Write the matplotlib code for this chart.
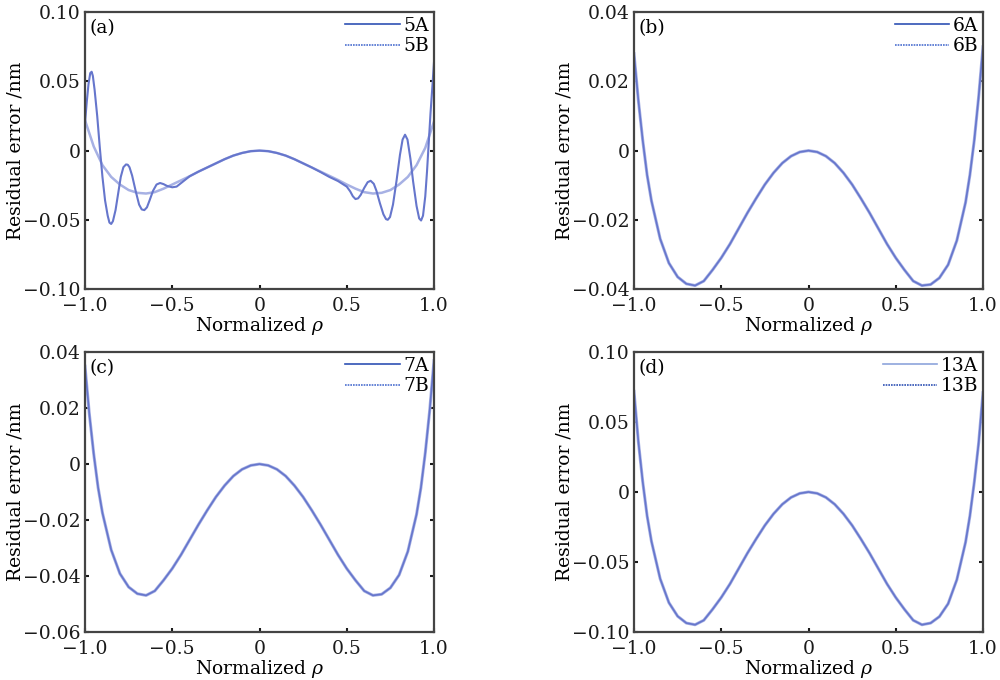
"""Residual error vs normalized rho, four panels (a)-(d)."""
import numpy as np
import matplotlib
matplotlib.use("Agg")
import matplotlib.pyplot as plt
from matplotlib.lines import Line2D
from matplotlib.ticker import FixedLocator, FixedFormatter

plt.rcParams["font.family"] = ["DejaVu Serif"]
plt.rcParams["mathtext.fontset"] = "dejavuserif"
plt.rcParams["font.size"] = 13

# ---- data ------------------------------------------------------------------
# panel (a): 5A oscillating residual, 5B smooth residual
rho_5a = [-1.0, -0.99, -0.98, -0.97, -0.962, -0.955, -0.945, -0.93, -0.915, -0.9,
          -0.885, -0.87, -0.86, -0.85, -0.84, -0.825, -0.81, -0.795, -0.78, -0.765,
          -0.755, -0.745, -0.73, -0.71, -0.69, -0.675, -0.66, -0.645, -0.63, -0.61,
          -0.59, -0.57, -0.55, -0.53, -0.5, -0.475, -0.45, -0.425, -0.4,
          -0.35, -0.3, -0.25, -0.2, -0.15, -0.1, -0.05, 0.0,
          0.05, 0.1, 0.15, 0.2, 0.25, 0.3, 0.35, 0.4, 0.45, 0.5,
          0.52, 0.535, 0.55, 0.565, 0.58, 0.6, 0.62, 0.637, 0.655, 0.67,
          0.69, 0.71, 0.725, 0.735, 0.748, 0.765, 0.785, 0.805, 0.82, 0.834,
          0.848, 0.865, 0.88, 0.9, 0.915, 0.926, 0.937, 0.95, 0.96, 0.97,
          0.98, 0.99, 1.0]
err_5a = [0.020, 0.035, 0.048, 0.056, 0.057, 0.054, 0.044, 0.025, 0.002, -0.019,
          -0.036, -0.047, -0.052, -0.053, -0.051, -0.043, -0.031, -0.019, -0.012, -0.0100,
          -0.0102, -0.012, -0.018, -0.029, -0.039, -0.0425, -0.043, -0.041, -0.036, -0.029,
          -0.0245, -0.0234, -0.0242, -0.0255, -0.0265, -0.026, -0.0235, -0.021, -0.0185,
          -0.0152, -0.0122, -0.0092, -0.0062, -0.0036, -0.0017, -0.0004, 0.0,
          -0.0004, -0.0017, -0.0036, -0.0062, -0.0092, -0.0122, -0.0155, -0.019, -0.022, -0.026,
          -0.0295, -0.033, -0.035, -0.0345, -0.032, -0.027, -0.0228, -0.0218, -0.024, -0.029,
          -0.038, -0.046, -0.0495, -0.050, -0.048, -0.039, -0.022, -0.003, 0.008, 0.0115,
          0.008, -0.006, -0.022, -0.040, -0.049, -0.0505, -0.047, -0.033, -0.015, 0.006,
          0.027, 0.045, 0.064]

rho_5b = [-1.0, -0.95, -0.9, -0.85, -0.8, -0.75, -0.7, -0.65, -0.6, -0.55,
          -0.5, -0.45, -0.4, -0.35, -0.3, -0.25, -0.2, -0.15, -0.1, -0.05,
          0.0, 0.05, 0.1, 0.15, 0.2, 0.25, 0.3, 0.35, 0.4, 0.45, 0.5, 0.55,
          0.6, 0.65, 0.7, 0.75, 0.8, 0.85, 0.9, 0.95, 1.0]
err_5b = [0.022, 0.003, -0.0105, -0.019, -0.0245, -0.0285, -0.0305, -0.031, -0.030, -0.0275,
          -0.0245, -0.0215, -0.0185, -0.0152, -0.0122, -0.0092, -0.0062, -0.0036, -0.0017, -0.0004,
          0.0, -0.0004, -0.0017, -0.0036, -0.0062, -0.0092, -0.0122, -0.0152, -0.0182, -0.0212, -0.0245, -0.0275,
          -0.030, -0.031, -0.0305, -0.0285, -0.0245, -0.019, -0.0105, 0.002, 0.021]

# panels (b)-(d): A and B coincide
rho = [-1.0, -0.975, -0.95, -0.925, -0.9, -0.85, -0.8, -0.75, -0.7, -0.65,
       -0.6, -0.55, -0.5, -0.45, -0.4, -0.35, -0.3, -0.25, -0.2, -0.15,
       -0.1, -0.05, 0.0, 0.05, 0.1, 0.15, 0.2, 0.25, 0.3, 0.35, 0.4, 0.45,
       0.5, 0.55, 0.6, 0.65, 0.7, 0.75, 0.8, 0.85, 0.9, 0.925, 0.95, 0.975, 1.0]
err_6 = [0.028, 0.0145, 0.003, -0.007, -0.0145, -0.0255, -0.0325, -0.0365, -0.0385, -0.039,
         -0.0377, -0.0345, -0.031, -0.027, -0.0225, -0.018, -0.0138, -0.0098, -0.0064, -0.0036,
         -0.0016, -0.0004, 0.0, -0.0004, -0.0016, -0.0036, -0.0064, -0.0098, -0.0138, -0.018, -0.0225, -0.027,
         -0.031, -0.0345, -0.0377, -0.039, -0.0387, -0.0368, -0.033, -0.026, -0.015, -0.007, 0.003, 0.0155, 0.030]
err_7 = [0.035, 0.0178, 0.0036, -0.0084, -0.0175, -0.0307, -0.0392, -0.044, -0.0464, -0.047,
         -0.0454, -0.0416, -0.0374, -0.0325, -0.0271, -0.0217, -0.0166, -0.0118, -0.0077, -0.0043,
         -0.0019, -0.0005, 0.0, -0.0005, -0.0019, -0.0043, -0.0077, -0.0118, -0.0166, -0.0217, -0.0271, -0.0325,
         -0.0374, -0.0416, -0.0454, -0.047, -0.0466, -0.0443, -0.0397, -0.0313, -0.018, -0.0085, 0.004, 0.019, 0.037]
err_13 = [0.072, 0.036, 0.0073, -0.017, -0.0353, -0.0621, -0.0792, -0.0889, -0.0938, -0.095,
          -0.0918, -0.084, -0.0755, -0.0658, -0.0548, -0.0438, -0.0336, -0.0239, -0.0156, -0.0088,
          -0.0039, -0.001, 0.0, -0.001, -0.0039, -0.0088, -0.0156, -0.0239, -0.0336, -0.0438, -0.0548, -0.0658,
          -0.0755, -0.084, -0.0918, -0.095, -0.0938, -0.0892, -0.080, -0.0628, -0.036, -0.017, 0.007, 0.035, 0.071]

x_ticks = [-1.0, -0.5, 0.0, 0.5, 1.0]
x_labels = ["\u22121.0", "\u22120.5", "0", "0.5", "1.0"]
y_ticks_a = [-0.10, -0.05, 0.0, 0.05, 0.10]
y_labels_a = ["\u22120.10", "\u22120.05", "0", "0.05", "0.10"]
y_ticks_b = [-0.04, -0.02, 0.0, 0.02, 0.04]
y_labels_b = ["\u22120.04", "\u22120.02", "0", "0.02", "0.04"]
y_ticks_c = [-0.06, -0.04, -0.02, 0.0, 0.02, 0.04]
y_labels_c = ["\u22120.06", "\u22120.04", "\u22120.02", "0", "0.02", "0.04"]
y_ticks_d = y_ticks_a
y_labels_d = y_labels_a

CURVE = "#6676cc"
LIGHT = "#a7b1e4"
DARK = "#2f52b4"
MID = "#4c6fd0"


def style_axes(ax, yticks, ylabels, tag):
    ax.set_xlim(-1.0, 1.0)
    ax.set_ylim(yticks[0], yticks[-1])
    ax.xaxis.set_major_locator(FixedLocator(x_ticks))
    ax.xaxis.set_major_formatter(FixedFormatter(x_labels))
    ax.yaxis.set_major_locator(FixedLocator(yticks))
    ax.yaxis.set_major_formatter(FixedFormatter(ylabels))
    ax.tick_params(direction="in", length=3, width=1.5, right=True,
                   labelsize=13.5, pad=3, colors="#1a1a1a")
    ax.tick_params(axis="x", pad=6)
    for s in ax.spines.values():
        s.set_linewidth(1.6)
        s.set_color("#444444")
    ax.set_xlabel("Normalized $\\rho$", fontsize=13.5, labelpad=0)
    ax.set_ylabel("Residual error /nm", fontsize=13.5, labelpad=-1)
    ax.text(0.012, 0.975, tag, transform=ax.transAxes, ha="left", va="top",
            fontsize=13.5)


def add_legend(ax, names, colors):
    handles = [Line2D([], [], color=colors[0], lw=1.2, ls="-"),
               Line2D([], [], color=colors[1], lw=1.2, ls=(0, (1, 0.6)))]
    ax.legend(handles, names, loc="upper right", frameon=False,
              fontsize=13.5, handlelength=2.9, handletextpad=0.2,
              labelspacing=0.12, borderaxespad=0.15, borderpad=0.1)


fig = plt.figure(figsize=(10, 6.8), dpi=100)
w, h = 0.349, 0.407
ax_a = fig.add_axes([0.085, 0.575, w, h])
ax_b = fig.add_axes([0.634, 0.575, w, h])
ax_c = fig.add_axes([0.085, 0.071, w, 0.411])
ax_d = fig.add_axes([0.634, 0.071, w, 0.411])

# (a)
ax_a.plot(rho_5b, err_5b, color=LIGHT, lw=1.8)
ax_a.plot(rho_5a, err_5a, color=CURVE, lw=1.5)
style_axes(ax_a, y_ticks_a, y_labels_a, "(a)")
add_legend(ax_a, ["5A", "5B"], [DARK, MID])

# (b)-(d)
for ax, err, yt, yl, tag, names, cols in [
        (ax_b, err_6, y_ticks_b, y_labels_b, "(b)", ["6A", "6B"], [DARK, MID]),
        (ax_c, err_7, y_ticks_c, y_labels_c, "(c)", ["7A", "7B"], [DARK, MID]),
        (ax_d, err_13, y_ticks_d, y_labels_d, "(d)", ["13A", "13B"], ["#8ea4dc", DARK])]:
    ax.plot(rho, err, color=LIGHT, lw=2.2)
    ax.plot(rho, err, color=CURVE, lw=1.2)
    style_axes(ax, yt, yl, tag)
    add_legend(ax, names, cols)

fig.savefig("out.png", dpi=100)
